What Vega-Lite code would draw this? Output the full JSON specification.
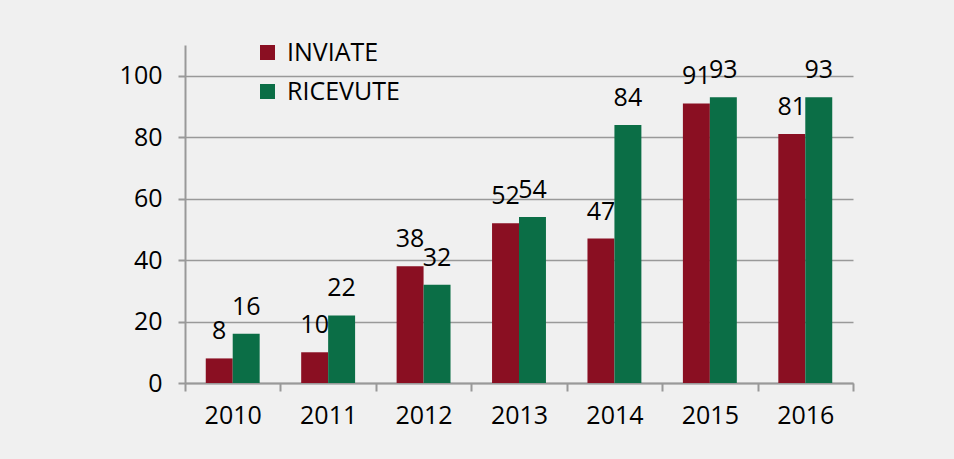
{
  "$schema": "https://vega.github.io/schema/vega-lite/v6.json",
  "autosize": {"type": "none"},
  "padding": {"left": 185, "top": 45, "right": 101, "bottom": 76},
  "width": 668,
  "height": 338,
  "background": "#f0f0f0",
  "config": {
    "view": {"stroke": null},
    "font": "Open Sans",
    "axis": {"labelFont": "Open Sans", "labelFontSize": 25, "labelColor": "#000000"}
  },
  "data": {
    "values": [
      {"anno": "2010", "tipo": "INVIATE", "valore": 8},
      {"anno": "2010", "tipo": "RICEVUTE", "valore": 16},
      {"anno": "2011", "tipo": "INVIATE", "valore": 10},
      {"anno": "2011", "tipo": "RICEVUTE", "valore": 22},
      {"anno": "2012", "tipo": "INVIATE", "valore": 38},
      {"anno": "2012", "tipo": "RICEVUTE", "valore": 32},
      {"anno": "2013", "tipo": "INVIATE", "valore": 52},
      {"anno": "2013", "tipo": "RICEVUTE", "valore": 54},
      {"anno": "2014", "tipo": "INVIATE", "valore": 47},
      {"anno": "2014", "tipo": "RICEVUTE", "valore": 84},
      {"anno": "2015", "tipo": "INVIATE", "valore": 91},
      {"anno": "2015", "tipo": "RICEVUTE", "valore": 93},
      {"anno": "2016", "tipo": "INVIATE", "valore": 81},
      {"anno": "2016", "tipo": "RICEVUTE", "valore": 93}
    ]
  },
  "encoding": {
    "x": {
      "field": "anno", "type": "nominal",
      "scale": {"paddingInner": 0, "paddingOuter": 0},
      "axis": {
        "title": null, "labelAngle": 0, "tickBand": "extent",
        "domainColor": "#999999", "domainWidth": 2,
        "tickColor": "#999999", "tickWidth": 2, "tickSize": 8,
        "labelPadding": 12
      }
    },
    "xOffset": {
      "field": "tipo", "type": "nominal",
      "scale": {"paddingInner": 0, "paddingOuter": 0.77}
    },
    "y": {
      "field": "valore", "type": "quantitative",
      "scale": {"domain": [0, 110], "nice": false},
      "axis": {
        "title": null, "values": [0, 20, 40, 60, 80, 100],
        "grid": true, "gridColor": "#999999", "gridWidth": 1.7,
        "domainColor": "#999999", "domainWidth": 2,
        "tickColor": "#999999", "tickWidth": 2, "tickSize": 7,
        "labelPadding": 16
      }
    }
  },
  "layer": [
    {
      "mark": {"type": "bar"},
      "encoding": {
        "color": {
          "field": "tipo", "type": "nominal",
          "scale": {"domain": ["INVIATE", "RICEVUTE"], "range": ["#8a0f22", "#0b6e46"]},
          "legend": {
            "title": null, "orient": "none", "legendX": 70, "legendY": -5,
            "symbolType": "square", "symbolSize": 225, "symbolStrokeWidth": 0,
            "labelFont": "Open Sans", "labelFontSize": 25, "labelColor": "#000000",
            "labelOffset": 7, "rowPadding": 13
          }
        }
      }
    },
    {
      "mark": {"type": "text", "baseline": "middle", "dy": -27, "fontSize": 25, "font": "Open Sans", "color": "#000000"},
      "encoding": {"text": {"field": "valore", "type": "quantitative"}}
    }
  ]
}
